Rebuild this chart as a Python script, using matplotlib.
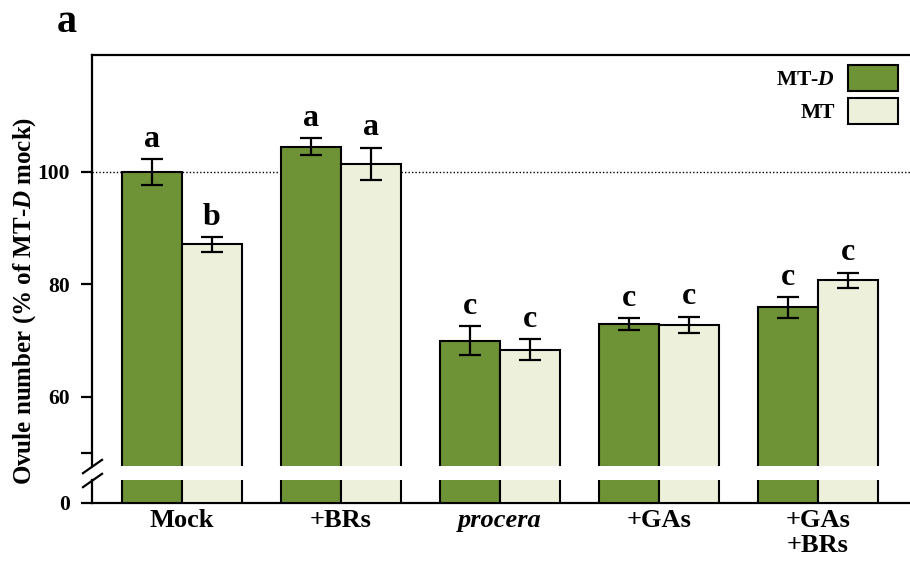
import matplotlib
matplotlib.use("Agg")
import matplotlib.pyplot as plt
import numpy as np

# ---- data ----
categories = ["Mock", "+BRs", "procera", "+GAs", "+GAs\n+BRs"]
mtd_values = [100.0, 104.5, 70.0, 72.9, 75.9]
mtd_err = [2.3, 1.5, 2.6, 1.1, 1.8]
mt_values = [87.1, 101.4, 68.4, 72.8, 80.7]
mt_err = [1.3, 2.9, 1.9, 1.45, 1.4]
mtd_letters = ["a", "a", "c", "c", "c"]
mt_letters = ["b", "a", "c", "c", "c"]
yticks_upper = [50, 60, 80, 100]
yticklabels_upper = ["", "60", "80", "100"]

plt.rcParams["font.family"] = ["Liberation Serif", "DejaVu Serif"]
plt.rcParams["font.weight"] = "bold"
plt.rcParams["mathtext.fontset"] = "custom"
plt.rcParams["mathtext.rm"] = "Liberation Serif:bold"
plt.rcParams["mathtext.bf"] = "Liberation Serif:bold"
plt.rcParams["mathtext.it"] = "Liberation Serif:italic:bold"

W, H = 910, 567
fig = plt.figure(figsize=(W / 100, H / 100), dpi=100)

def fx(px):
    return px / W

def fy(py):
    return 1 - py / H

left, right = fx(92), fx(910)
ax = fig.add_axes([left, fy(466), right - left, fy(55) - fy(466)])
axb = fig.add_axes([left, fy(503), right - left, fy(480) - fy(503)])

green = "#6E9236"
light = "#EDF1DB"
x = np.arange(len(categories))
bw = 0.375
lw = 1.5

for a in (ax, axb):
    a.bar(x - bw / 2, mtd_values, bw, color=green, edgecolor="black", linewidth=lw, zorder=3, label="MT-$D$")
    a.bar(x + bw / 2, mt_values, bw, color=light, edgecolor="black", linewidth=lw, zorder=3, label="MT")
    a.set_xlim(-0.566, 4.579)
    for s in a.spines.values():
        s.set_linewidth(1.6)
    a.spines["right"].set_visible(False)

ax.errorbar(x - bw / 2, mtd_values, yerr=mtd_err, fmt="none", ecolor="black", elinewidth=1.6, capsize=8, capthick=1.6, zorder=4)
ax.errorbar(x + bw / 2, mt_values, yerr=mt_err, fmt="none", ecolor="black", elinewidth=1.6, capsize=8, capthick=1.6, zorder=4)

for xi, v, e, t in zip(x - bw / 2, mtd_values, mtd_err, mtd_letters):
    ax.text(xi, v + e + 2.2, t, ha="center", va="baseline", fontsize=23, fontweight="bold", zorder=5)
for xi, v, e, t in zip(x + bw / 2, mt_values, mt_err, mt_letters):
    ax.text(xi, v + e + 2.2, t, ha="center", va="baseline", fontsize=23, fontweight="bold", zorder=5)

ax.axhline(100, color="black", linestyle=(0, (1, 1.5)), linewidth=1.0, zorder=1)

ax.set_ylim(47.7, 120.8)
ax.spines["bottom"].set_visible(False)
ax.set_xticks([])
ax.set_yticks(yticks_upper)
ax.set_yticklabels(yticklabels_upper)
ax.tick_params(axis="y", direction="out", length=8, width=1.6, pad=8, labelsize=15.5)

axb.set_ylim(0, 4)
axb.spines["top"].set_visible(False)
axb.set_yticks([0])
axb.set_yticklabels(["0"])
axb.tick_params(axis="y", direction="out", length=8, width=1.6, pad=8, labelsize=15.5)
axb.set_xticks(x)
axb.set_xticklabels(categories, fontsize=19, fontweight="bold", linespacing=1.15)
axb.tick_params(axis="x", length=0, pad=4)
for lab in axb.get_xticklabels():
    if lab.get_text() == "procera":
        lab.set_fontstyle("italic")

# break marks
mk = [(-1, -0.7), (1, 0.7)]
ax.plot([0], [0], marker=mk, markersize=15, markeredgewidth=1.6, color="black", transform=ax.transAxes, clip_on=False, linestyle="none")
axb.plot([0], [1], marker=mk, markersize=15, markeredgewidth=1.6, color="black", transform=axb.transAxes, clip_on=False, linestyle="none")

handles, labels = ax.get_legend_handles_labels()
leg = ax.legend(handles, labels, loc="upper right", bbox_to_anchor=(fx(898), fy(65)), bbox_transform=fig.transFigure,
                frameon=False, markerfirst=False, fontsize=15.5, handlelength=2.33, handleheight=1.49,
                labelspacing=0.33, handletextpad=0.6, borderpad=0, borderaxespad=0)
for t in leg.get_texts():
    t.set_fontweight("bold")

fig.text(fx(25), fy(301), "Ovule number (% of MT-$D$ mock)", rotation=90, ha="center", va="center", fontsize=18, fontweight="bold")
fig.text(fx(57), fy(32), "a", ha="left", va="baseline", fontsize=29, fontweight="bold")

fig.savefig("out.png", dpi=100)
